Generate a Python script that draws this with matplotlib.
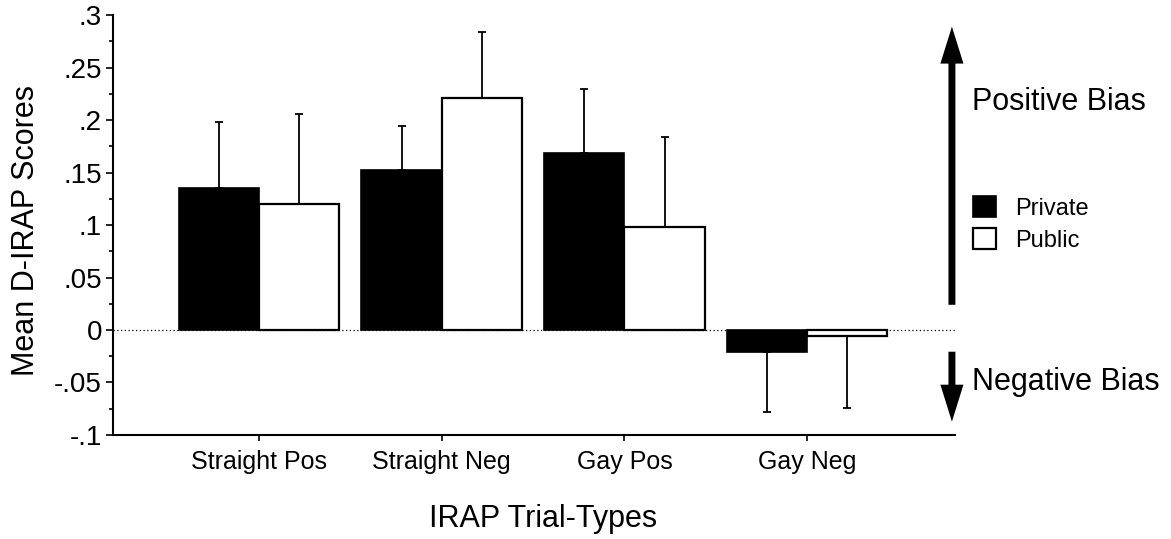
import numpy as np
import matplotlib.pyplot as plt
from matplotlib.ticker import MultipleLocator

plt.rcParams['font.family'] = ['Liberation Sans', 'DejaVu Sans']

# mean D-IRAP scores and standard errors per trial-type
trial_types = ['Straight Pos', 'Straight Neg', 'Gay Pos', 'Gay Neg']
private_mean = [0.135, 0.152, 0.169, -0.021]
private_se = [0.063, 0.042, 0.061, 0.057]
public_mean = [0.120, 0.221, 0.098, -0.006]
public_se = [0.086, 0.063, 0.086, 0.068]

y_ticks = [-0.1, -0.05, 0, 0.05, 0.1, 0.15, 0.2, 0.25, 0.3]
y_ticklabels = ['-.1', '-.05', '0', '.05', '.1', '.15', '.2', '.25', '.3']


def one_sided(means, errs):
    # error bars only point away from zero
    lo = [e if m < 0 else 0 for m, e in zip(means, errs)]
    hi = [e if m >= 0 else 0 for m, e in zip(means, errs)]
    return [lo, hi]


fig = plt.figure(figsize=(11.71, 5.39), dpi=100)
ax = fig.add_axes([0.0965, 0.193, 0.719, 0.779])

x = np.arange(len(trial_types))
w = 0.44
ekw = dict(elinewidth=1.3, capthick=1.3, ecolor='black')

ax.axhline(0, color='black', lw=0.9, ls=(0, (1, 2)), zorder=1)
b1 = ax.bar(x, private_mean, w, align='edge', color='black', edgecolor='black',
            linewidth=1.2, label='Private', zorder=2)
b2 = ax.bar(x, public_mean, w, align='edge', color='white', edgecolor='black',
            linewidth=1.6, label='Public', zorder=2)
# first set of bars sits left of the tick
for r in b1:
    r.set_x(r.get_x() - w)
ax.errorbar(x - w / 2, private_mean, yerr=one_sided(private_mean, private_se),
            fmt='none', capsize=2.8, zorder=1.5, **ekw)
ax.errorbar(x + w / 2, public_mean, yerr=one_sided(public_mean, public_se),
            fmt='none', capsize=2.8, zorder=1.5, **ekw)

ax.set_xlim(-0.8, 3.81)
ax.set_ylim(-0.1, 0.3)
ax.set_yticks(y_ticks)
ax.set_yticklabels(y_ticklabels)
ax.yaxis.set_minor_locator(MultipleLocator(0.025))
ax.set_xticks(x)
ax.set_xticklabels(trial_types)

for s in ['top', 'right']:
    ax.spines[s].set_visible(False)
for s in ['left', 'bottom']:
    ax.spines[s].set_linewidth(1.5)

ax.tick_params(axis='y', which='major', length=5, width=1.2, labelsize=20, pad=3)
ax.tick_params(axis='y', which='minor', length=3, width=1.2)
ax.tick_params(axis='x', length=4, width=1.2, labelsize=18, pad=7)

ax.set_ylabel('Mean D-IRAP Scores', fontsize=22)
ax.yaxis.set_label_coords(-0.085, 0.486)
ax.set_xlabel('IRAP Trial-Types', fontsize=22)
ax.xaxis.set_label_coords(0.511, -0.164)

# bias direction arrows at the right edge
arrow_up = 'simple, head_length=2.66, head_width=1.66, tail_width=0.5'
ax.annotate('', xy=(0.9964, 0.289), xytext=(0.9964, 0.024),
            xycoords=('axes fraction', 'data'),
            arrowprops=dict(arrowstyle=arrow_up, mutation_scale=10, fc='black',
                            ec='black', lw=0, shrinkA=0, shrinkB=0),
            annotation_clip=False)
ax.annotate('', xy=(0.9964, -0.0873), xytext=(0.9964, -0.0207),
            xycoords=('axes fraction', 'data'),
            arrowprops=dict(arrowstyle=arrow_up, mutation_scale=10, fc='black',
                            ec='black', lw=0, shrinkA=0, shrinkB=0),
            annotation_clip=False)

fig.text(0.8298, 0.7959, 'Positive Bias', fontsize=22, va='baseline')
fig.text(0.8298, 0.2764, 'Negative Bias', fontsize=22, va='baseline')

fig.legend(handles=[b1, b2], loc='upper left', bbox_to_anchor=(0.8306, 0.636),
           frameon=False, fontsize=17, handlelength=1.0, handleheight=1.0,
           handletextpad=0.78, labelspacing=0.35, borderpad=0, borderaxespad=0)

fig.savefig('out.png', dpi=100)
